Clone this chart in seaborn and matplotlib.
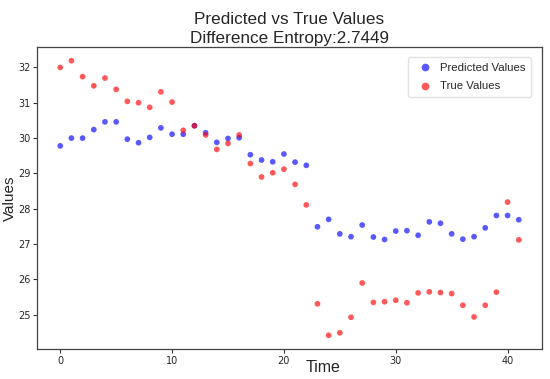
import numpy as np
import pandas as pd
import matplotlib
matplotlib.use("Agg")
import matplotlib.pyplot as plt
import seaborn as sns

time = list(range(42))
predicted = [29.78, 30.0, 30.0, 30.24, 30.46, 30.46, 29.97, 29.87, 30.02, 30.29,
             30.11, 30.11, 30.35, 30.15, 29.88, 29.99, 30.01, 29.53, 29.38, 29.33,
             29.55, 29.32, 29.23, 27.49, 27.70, 27.29, 27.21, 27.54, 27.20, 27.13,
             27.37, 27.38, 27.25, 27.63, 27.59, 27.29, 27.14, 27.21, 27.46, 27.81,
             27.81, 27.69]
true_vals = [32.0, 32.19, 31.74, 31.48, 31.70, 31.38, 31.04, 31.0, 30.87, 31.31,
             31.02, 30.22, 30.35, 30.09, 29.68, 29.85, 30.09, 29.28, 28.9, 29.02,
             29.12, 28.69, 28.11, 25.31, 24.42, 24.49, 24.93, 25.90, 25.35, 25.37,
             25.41, 25.34, 25.62, 25.65, 25.63, 25.60, 25.27, 24.94, 25.27, 25.64,
             28.19, 27.12]
series_names = ["Predicted Values", "True Values"]
title_text = "Predicted vs True Values\nDifference Entropy:2.7449"

df = pd.DataFrame({
    "Time": time * 2,
    "Values": predicted + true_vals,
    "Series": [series_names[0]] * len(time) + [series_names[1]] * len(time),
})

sns.set_style("white")
plt.rcParams["font.family"] = ["Liberation Sans", "DejaVu Sans"]

fig = plt.figure(figsize=(5.5, 3.79), dpi=100)
ax = fig.add_axes([37.3 / 550, 1 - 349 / 379, (541.7 - 37.3) / 550, (349 - 47) / 379])

sns.scatterplot(data=df, x="Time", y="Values", hue="Series",
                palette={series_names[0]: "#0000ff", series_names[1]: "#ff0000"},
                alpha=0.65, s=17, edgecolor="none", ax=ax)

ax.set_title(title_text, fontsize=12.3, pad=3, linespacing=1.35)
ax.set_xlabel("Time", fontsize=11.5)
ax.set_ylabel("Values", fontsize=11, labelpad=1)
ax.xaxis.set_label_coords(0.566, -0.035)
ax.set_xticks([0, 10, 20, 30, 40])
ax.set_yticks([25, 26, 27, 28, 29, 30, 31, 32])
ax.tick_params(axis="both", labelsize=7, length=3, width=0.8, color="#333333",
               bottom=True, left=True, pad=2)
for lab in ax.get_xticklabels() + ax.get_yticklabels():
    lab.set_fontfamily("DejaVu Sans")
for sp in ax.spines.values():
    sp.set_color("#444444")
    sp.set_linewidth(0.9)

leg = ax.legend(loc="upper right", fontsize=8.2, frameon=True, borderpad=0.5,
                handletextpad=0.35, markerscale=1.35, borderaxespad=0.9,
                labelspacing=0.75)
leg.get_frame().set_edgecolor("#dddddd")

fig.savefig("out.png", dpi=100)
